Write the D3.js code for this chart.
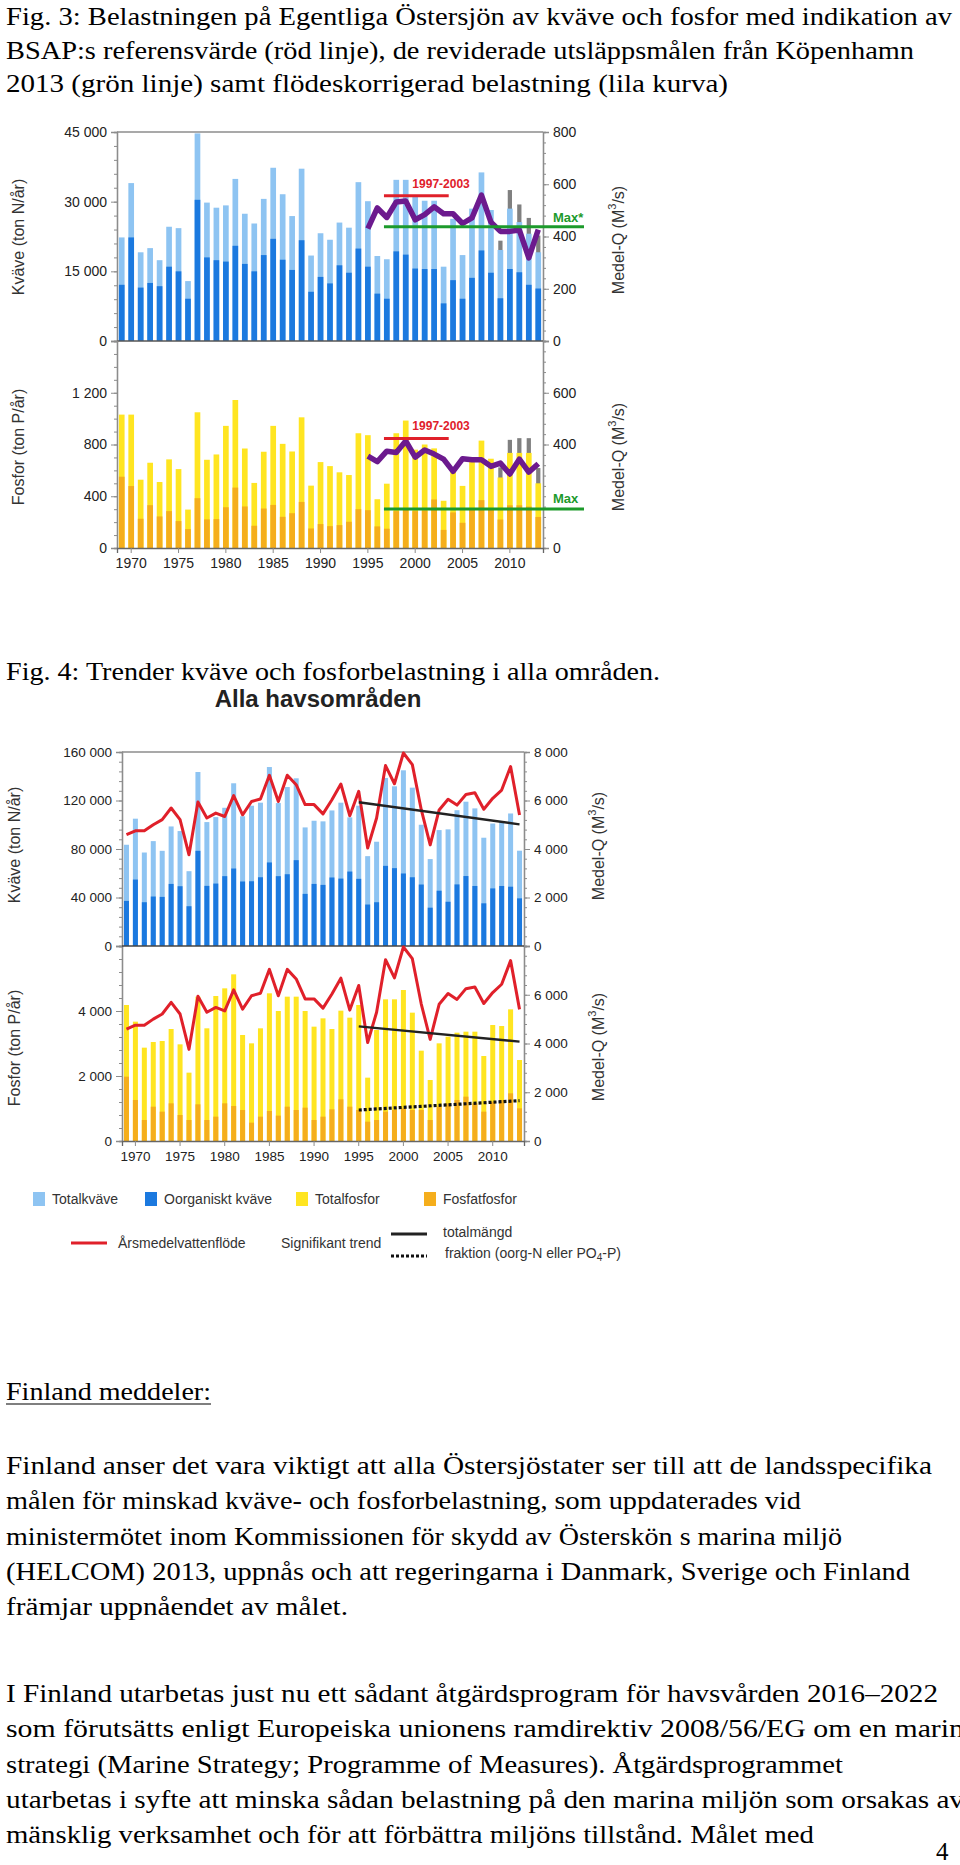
<!DOCTYPE html>
<html><head><meta charset="utf-8">
<script src="https://cdn.jsdelivr.net/npm/d3@7"></script>
<style>body{margin:0;background:#fff}svg{display:block}</style>
</head><body>
<svg id="c" width="960" height="1865"></svg>
<script>
// ---------------- DATA ----------------
const years = [1969,1970,1971,1972,1973,1974,1975,1976,1977,1978,1979,1980,1981,1982,1983,1984,1985,1986,1987,1988,1989,1990,1991,1992,1993,1994,1995,1996,1997,1998,1999,2000,2001,2002,2003,2004,2005,2006,2007,2008,2009,2010,2011,2012,2013];
const yearTicks = [1970,1975,1980,1985,1990,1995,2000,2005,2010];
const recentYears = [1995,1996,1997,1998,1999,2000,2001,2002,2003,2004,2005,2006,2007,2008,2009,2010,2011,2012,2013];
const greyYears = [2009,2010,2011,2012,2013];
const refYears = [1997,2003];
const trendYears = [1995,2013];

// Fig 3 – Egentliga Östersjön, kväve (ton N/år)
const f3TotN = [22300,34000,19100,20000,17400,24600,24300,12900,44700,29800,28700,29200,34900,27400,25300,30600,37300,31600,26900,37100,18400,23200,21800,25500,24400,34200,30100,18300,17600,34700,34700,31300,30200,30200,16000,26300,18500,28500,36300,28200,19600,28500,25600,23100,19100];
const f3InorgN = [12100,22300,11500,12500,11800,16000,15000,9100,30400,18000,17400,17100,20500,16600,15000,18500,22000,17500,15300,21700,10600,13800,12400,16300,14700,19900,16000,10200,9100,19300,18600,15600,15500,15500,8100,13100,9100,13600,19500,14700,9200,15500,14800,12100,11300];
const f3GreyN = [21600,32500,29400,26500,22700];
const f3FlowCorrN = [24200,28650,26600,29950,30150,26100,27200,28900,27400,27400,25300,26500,31400,25600,23600,23600,23900,17900,24000];
const f3RefN = 31300;
const f3MaxN = 24600;
// Fig 3 – fosfor (ton P/år)
const f3TotP = [1031,1031,528,659,510,685,610,297,1049,682,723,944,1144,769,503,744,944,805,746,1010,482,664,633,585,564,887,872,377,497,887,985,760,800,770,365,590,480,690,830,690,545,735,735,735,500];
const f3PO4P = [551,479,226,331,244,285,208,146,385,221,223,315,467,321,172,305,333,241,269,356,151,185,169,177,203,300,292,167,149,285,297,285,290,375,140,275,195,300,370,300,220,330,330,320,240];
const f3GreyP = [623,836,849,849,618];
const f3FlowCorrP = [710,668,748,738,827,702,757,726,687,592,690,682,682,631,656,572,687,587,651];
const f3RefP = 846;
const f3MaxP = 302;

// Fig 4 – Alla havsområden
const f4TotN = [83500,105000,77100,86500,78500,98600,94800,61700,143500,102200,106300,114000,134200,107000,115700,118200,147600,117900,131100,138300,97800,103300,102800,111800,118200,106100,115700,74100,86000,138600,131700,144900,130600,100000,71700,95600,96200,112000,119000,113500,89300,101000,102500,109300,78600];
const f4InorgN = [37200,54800,36100,40800,40500,51200,49300,32800,78500,49600,51500,57600,63900,53200,53400,56700,68900,57600,59200,70800,43000,51200,50400,56500,55600,61400,55400,34200,36100,66100,64200,59800,56700,50700,31600,45600,36500,50800,57700,49500,35200,47500,49500,48900,39300];
const f4Flow = [4590,4750,4750,5000,5210,5690,5210,3760,5940,5280,5480,5340,6200,5410,5960,6060,7040,5960,7040,6650,5830,5830,5450,6030,6680,5370,6380,4040,5280,7440,6690,7960,7480,5620,4170,5610,6050,5810,6250,6320,5640,6090,6430,7400,5400];
const f4TrendN = [118600,100300];
const f4TotP = [4185,3672,2872,3046,3077,3446,2974,2103,4441,3467,4461,4697,5128,3262,3005,3467,4544,4000,4441,4441,4000,3518,3774,3446,4010,3795,4185,1949,3415,4359,4359,4646,3949,2779,1877,3005,3210,3333,3364,3364,2615,3569,3538,4051,2492];
const f4PO4P = [1979,1262,646,1056,903,1159,800,646,1128,646,749,1159,1077,954,564,749,923,780,1056,954,1026,646,749,974,1282,1056,954,595,646,903,954,1005,954,954,646,1056,1159,1262,1364,1159,903,1210,1262,1467,1005];
const f4TrendP = [3528,3056];
const f4TrendPO4 = [954,1241];

// tick labels
const f3NLeft = [0,15000,30000,45000], f3QRight = [0,200,400,600,800];
const f3PLeft = [0,400,800,1200], f3PRight = [0,400,600];
const f4NLeft = [0,40000,80000,120000,160000], f4NRight = [0,2000,4000,6000,8000];
const f4PLeft = [0,2000,4000], f4PRight = [0,2000,4000,6000];

// texts
const cap3 = ["Fig. 3:  Belastningen på Egentliga Östersjön av kväve och fosfor med indikation av",
 "BSAP:s referensvärde (röd linje), de reviderade utsläppsmålen från Köpenhamn",
 "2013 (grön linje) samt flödeskorrigerad belastning (lila kurva)"];
const cap4 = "Fig. 4: Trender kväve och fosforbelastning i alla områden.";
const para1 = ["Finland anser det vara viktigt att alla Östersjöstater ser till att de landsspecifika",
 "målen för minskad kväve- och fosforbelastning, som uppdaterades vid",
 "ministermötet inom Kommissionen för skydd av Österskön s marina miljö",
 "(HELCOM) 2013, uppnås och att regeringarna i Danmark, Sverige och Finland",
 "främjar uppnåendet av målet."];
const para2 = ["I Finland utarbetas just nu ett sådant åtgärdsprogram för havsvården 2016–2022",
 "som förutsätts enligt Europeiska unionens ramdirektiv 2008/56/EG om en marin",
 "strategi (Marine Strategy; Programme of Measures). Åtgärdsprogrammet",
 "utarbetas i syfte att minska sådan belastning på den marina miljön som orsakas av",
 "mänsklig verksamhet och för att förbättra miljöns tillstånd. Målet med"];

// ---------------- DRAW ----------------
const C = {light:'#8ec4f2', dark:'#1b79df', yel:'#ffe521', ora:'#f5ae1c', grey:'#808080',
  purple:'#6c1a8e', red:'#e0202a', green:'#1c9a2b', axis:'#8c8c8c', txt:'#333'};
const SANS = 'Liberation Sans, Arial, sans-serif';
const SERIF = 'Liberation Serif, Times New Roman, serif';
const fmt = d3.formatLocale({decimal:",", thousands:" ", grouping:[3], currency:["",""]}).format(",");
const svg = d3.select('#c');
svg.append('rect').attr('width',960).attr('height',1865).attr('fill','#fff');

function serif(x, y, t, len, fs){
  const e = svg.append('text').attr('x',x).attr('y',y).attr('font-family',SERIF)
    .attr('font-size',fs||25).attr('fill','#000').text(t);
  if (len) e.attr('textLength',len).attr('lengthAdjust','spacingAndGlyphs');
  return e;
}

function styleAxis(sel, fs){
  sel.select('.domain').attr('stroke',C.axis).attr('stroke-width',1.3);
  sel.selectAll('.tick line').attr('stroke',C.axis).attr('stroke-width',1);
  sel.selectAll('text').attr('font-family',SANS).attr('font-size',fs).attr('fill','#222');
}

function axes(o){
  const yl = d3.scaleLinear().domain([0,o.lmax]).range([o.yb,o.yt]);
  const yr = d3.scaleLinear().domain([0,o.rmax]).range([o.yb,o.yt]);
  const g = svg.append('g');
  g.append('g').attr('transform',`translate(${o.x0},0)`)
    .call(d3.axisLeft(yl).tickValues(d3.range(0,o.lmax+1e-6,o.lminStep)).tickSize(3).tickFormat(''))
    .call(s=>styleAxis(s,o.fs));
  g.append('g').attr('transform',`translate(${o.x0},0)`)
    .call(d3.axisLeft(yl).tickValues(o.lmaj).tickSize(6).tickPadding(4).tickFormat(fmt))
    .call(s=>styleAxis(s,o.fs));
  g.append('g').attr('transform',`translate(${o.x1},0)`)
    .call(d3.axisRight(yr).tickValues(d3.range(0,o.rmax+1e-6,o.rminStep)).tickSize(3).tickFormat(''))
    .call(s=>styleAxis(s,o.fs));
  g.append('g').attr('transform',`translate(${o.x1},0)`)
    .call(d3.axisRight(yr).tickValues(o.rmaj).tickSize(6).tickPadding(4).tickFormat(fmt))
    .call(s=>styleAxis(s,o.fs));
  return {yl, yr};
}

function bars(x, y, vals, color, frac){
  const w = x.bandwidth()*(frac||1), off = (x.bandwidth()-w)/2;
  svg.append('g').selectAll('rect').data(vals).join('rect')
    .attr('x',(d,i)=>x(years[i])+off).attr('width',w)
    .attr('y',d=>y(d)).attr('height',d=>y(0)-y(d)).attr('fill',color);
}
function greyBars(x, y, yrs, vals){
  const w = x.bandwidth()*0.75, off = (x.bandwidth()-w)/2;
  svg.append('g').selectAll('rect').data(vals).join('rect')
    .attr('x',(d,i)=>x(yrs[i])+off).attr('width',w)
    .attr('y',d=>y(d)).attr('height',d=>y(0)-y(d)).attr('fill',C.grey);
}
function linePath(x, y, yrs, vals, color, w, dash){
  const l = d3.line().x((d,i)=>x(yrs[i])+x.bandwidth()/2).y(d=>y(d));
  const p = svg.append('path').attr('d',l(vals)).attr('fill','none').attr('stroke',color)
    .attr('stroke-width',w).attr('stroke-linejoin','round');
  if (dash) p.attr('stroke-dasharray',dash);
  return p;
}
function rotTitle(cx, cy){
  return svg.append('text').attr('transform',`translate(${cx},${cy}) rotate(-90)`)
    .attr('text-anchor','middle').attr('dominant-baseline','central')
    .attr('font-family',SANS).attr('font-size',16).attr('fill',C.txt);
}
function qTitle(cx, cy){
  const t = rotTitle(cx, cy);
  t.append('tspan').text('Medel-Q (M');
  t.append('tspan').attr('font-size',11).attr('dy',-6).text('3');
  t.append('tspan').attr('dy',6).text('/s)');
}
function yearAxis(x, yb, fs){
  const g = svg.append('g').attr('transform',`translate(0,${yb})`)
    .call(d3.axisBottom(x).tickValues(yearTicks).tickSize(5).tickPadding(5));
  styleAxis(g, fs);
  g.select('.domain').attr('stroke','#666');
}

// ---- captions ----
const capLens = [946, 908, 722];
cap3.forEach((t,i)=>serif(6, 25+i*33.5, t, capLens[i]));

// ---- FIG 3 ----
{
  const x0=117, x1=543;
  const x = d3.scaleBand().domain(years).range([x0,x1]).paddingInner(0.4).paddingOuter(0.2);
  // N panel
  const A = axes({x0,x1,yt:132,yb:341,lmax:45000,rmax:800,lmaj:f3NLeft,lminStep:3000,rmaj:f3QRight,rminStep:40,fs:14});
  greyBars(x, A.yl, greyYears, f3GreyN);
  bars(x, A.yl, f3TotN, C.light);
  bars(x, A.yl, f3InorgN, C.dark);
  svg.append('line').attr('x1',x0).attr('x2',x1).attr('y1',132).attr('y2',132).attr('stroke',C.axis).attr('stroke-width',1.3);
  svg.append('line').attr('x1',x0).attr('x2',x1).attr('y1',341).attr('y2',341).attr('stroke','#555').attr('stroke-width',1.3);
  linePath(x, A.yl, recentYears, f3FlowCorrN, C.purple, 5.5);
  svg.append('line').attr('x1',x(refYears[0])).attr('x2',x(refYears[1])+x.bandwidth()*1.4)
    .attr('y1',A.yl(f3RefN)).attr('y2',A.yl(f3RefN)).attr('stroke',C.red).attr('stroke-width',3);
  svg.append('line').attr('x1',x(refYears[0])).attr('x2',x1+41)
    .attr('y1',A.yl(f3MaxN)).attr('y2',A.yl(f3MaxN)).attr('stroke',C.green).attr('stroke-width',3);
  svg.append('text').attr('x',x(2000)).attr('y',A.yl(f3RefN)-8).attr('font-family',SANS).attr('font-weight','bold')
    .attr('font-size',12).attr('fill',C.red).text('1997-2003');
  svg.append('text').attr('x',x1+10).attr('y',A.yl(f3MaxN)-5).attr('font-family',SANS).attr('font-weight','bold')
    .attr('font-size',13).attr('fill',C.green).text('Max*');

  // P panel
  const B = axes({x0,x1,yt:341,yb:548,lmax:1600,rmax:800,lmaj:f3PLeft,lminStep:100,rmaj:f3PRight,rminStep:40,fs:14});
  greyBars(x, B.yl, greyYears, f3GreyP);
  bars(x, B.yl, f3TotP, C.yel);
  bars(x, B.yl, f3PO4P, C.ora);
  yearAxis(x, 548, 14);
  linePath(x, B.yl, recentYears, f3FlowCorrP, C.purple, 5.5);
  svg.append('line').attr('x1',x(refYears[0])).attr('x2',x(refYears[1])+x.bandwidth()*1.4)
    .attr('y1',B.yl(f3RefP)).attr('y2',B.yl(f3RefP)).attr('stroke',C.red).attr('stroke-width',3);
  svg.append('line').attr('x1',x(refYears[0])).attr('x2',x1+41)
    .attr('y1',B.yl(f3MaxP)).attr('y2',B.yl(f3MaxP)).attr('stroke',C.green).attr('stroke-width',3);
  svg.append('text').attr('x',x(2000)).attr('y',B.yl(f3RefP)-9).attr('font-family',SANS).attr('font-weight','bold')
    .attr('font-size',12).attr('fill',C.red).text('1997-2003');
  svg.append('text').attr('x',x1+10).attr('y',B.yl(f3MaxP)-6).attr('font-family',SANS).attr('font-weight','bold')
    .attr('font-size',13).attr('fill',C.green).text('Max');

  rotTitle(18, 237).text('Kväve (ton N/år)');
  rotTitle(18, 447).text('Fosfor (ton P/år)');
  qTitle(618, 240);
  qTitle(618, 457);
}

// ---- FIG 4 ----
serif(6, 680, cap4, 654);
svg.append('text').attr('x',318).attr('y',707).attr('text-anchor','middle').attr('font-family',SANS)
  .attr('font-weight','bold').attr('font-size',24).attr('fill','#222').text('Alla havsområden');
{
  const x0=122, x1=524;
  const x = d3.scaleBand().domain(years).range([x0,x1]).paddingInner(0.44).paddingOuter(0.22);
  const A = axes({x0,x1,yt:752,yb:946,lmax:160000,rmax:8000,lmaj:f4NLeft,lminStep:8000,rmaj:f4NRight,rminStep:400,fs:13.5});
  bars(x, A.yl, f4TotN, C.light);
  bars(x, A.yl, f4InorgN, C.dark);
  svg.append('line').attr('x1',x0).attr('x2',x1).attr('y1',752).attr('y2',752).attr('stroke',C.axis).attr('stroke-width',1.3);
  linePath(x, A.yr, years, f4Flow, C.red, 3);
  linePath(x, A.yl, trendYears, f4TrendN, '#222', 2.4);

  const B = axes({x0,x1,yt:946,yb:1141,lmax:6000,rmax:8000,lmaj:f4PLeft,lminStep:400,rmaj:f4PRight,rminStep:400,fs:13.5});
  bars(x, B.yl, f4TotP, C.yel);
  bars(x, B.yl, f4PO4P, C.ora);
  svg.append('line').attr('x1',x0).attr('x2',x1).attr('y1',946).attr('y2',946).attr('stroke','#444').attr('stroke-width',1.3);
  yearAxis(x, 1141, 13.5);
  linePath(x, B.yr, years, f4Flow, C.red, 3);
  linePath(x, B.yl, trendYears, f4TrendP, '#222', 2.4);
  linePath(x, B.yl, trendYears, f4TrendPO4, '#111', 3.2, '3,2');

  rotTitle(14, 845).text('Kväve (ton N/år)');
  rotTitle(14, 1048).text('Fosfor (ton P/år)');
  qTitle(598, 846);
  qTitle(598, 1047);

  // legend
  const L = svg.append('g').attr('font-family',SANS).attr('font-size',14).attr('fill',C.txt);
  const items = [[33,'Totalkväve',C.light],[145,'Oorganiskt kväve',C.dark],[296,'Totalfosfor',C.yel],[424,'Fosfatfosfor',C.ora]];
  items.forEach(([lx,t,c])=>{
    L.append('rect').attr('x',lx).attr('y',1192).attr('width',12).attr('height',14).attr('fill',c);
    L.append('text').attr('x',lx+19).attr('y',1199).attr('dominant-baseline','central').text(t);
  });
  L.append('line').attr('x1',71).attr('x2',107).attr('y1',1243).attr('y2',1243).attr('stroke',C.red).attr('stroke-width',3);
  L.append('text').attr('x',118).attr('y',1243).attr('dominant-baseline','central').text('Årsmedelvattenflöde');
  L.append('text').attr('x',281).attr('y',1243).attr('dominant-baseline','central').text('Signifikant trend');
  L.append('line').attr('x1',391).attr('x2',427).attr('y1',1234).attr('y2',1234).attr('stroke','#222').attr('stroke-width',3);
  L.append('text').attr('x',443).attr('y',1232).attr('dominant-baseline','central').text('totalmängd');
  L.append('line').attr('x1',391).attr('x2',427).attr('y1',1256).attr('y2',1256).attr('stroke','#111').attr('stroke-width',3.2).attr('stroke-dasharray','3,2');
  const ft = L.append('text').attr('x',445).attr('y',1253).attr('dominant-baseline','central');
  ft.append('tspan').text('fraktion (oorg-N eller PO');
  ft.append('tspan').attr('font-size',10).attr('dy',4).text('4');
  ft.append('tspan').attr('dy',-4).text('-P)');
}

// ---- body text ----
serif(6, 1400, 'Finland meddeler:', 205);
svg.append('line').attr('x1',6).attr('x2',211).attr('y1',1404).attr('y2',1404).attr('stroke','#000').attr('stroke-width',1.2);
const p1Lens = [926, 795, 836, 904, 342];
para1.forEach((t,i)=>serif(6, 1474+i*35.3, t, p1Lens[i]));
const p2Lens = [932, 958, 837, 958, 808];
para2.forEach((t,i)=>serif(6, 1702+i*35.3, t, p2Lens[i]));
serif(936, 1860, '4');
</script>
</body></html>
